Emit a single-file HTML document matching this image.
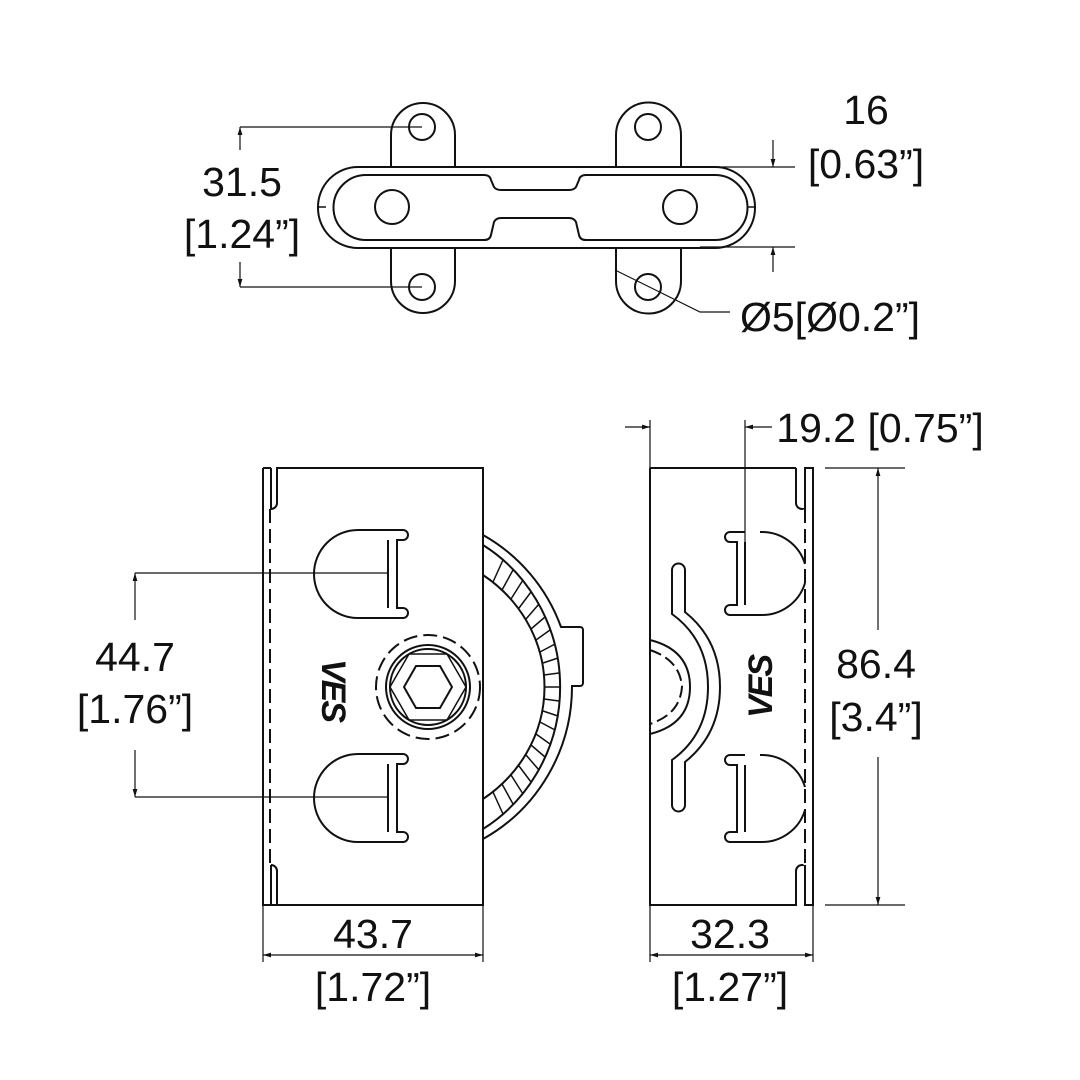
<!DOCTYPE html>
<html><head><style>body{margin:0;background:#fff}svg{display:block}text{font-family:"Liberation Sans",sans-serif;font-size:41px;fill:#111;text-anchor:middle}</style></head>
<body>
<svg width="1080" height="1080" viewBox="0 0 1080 1080" xmlns="http://www.w3.org/2000/svg">
<defs>
<marker id="a" viewBox="0 0 10 10" refX="10" refY="5" markerWidth="10" markerHeight="8" orient="auto-start-reverse" markerUnits="userSpaceOnUse"><path d="M0,2 L10,5 L0,8z" fill="#111"/></marker>
</defs>
<g fill="none" stroke="#111" stroke-width="2">
<!-- TOP VIEW -->
<path d="M391,167 V135 a32,32 0 0 1 64,0 V167"/>
<path d="M616,167 V135 a32,32 0 0 1 65,0 V167"/>
<path d="M391,247 V281 a32,32 0 0 0 64,0 V247"/>
<path d="M616,247 V281 a32,32 0 0 0 65,0 V247"/>
<rect x="318" y="167" width="437" height="81" rx="40"/>
<path d="M366,175 H484 Q490,175 491,180 L494,187 Q496,190 501,190 H569 Q574,190 576,187 L579,180 Q580,175 586,175 H715 a32,32 0 0 1 0,65 H586 Q580,240 579,235 L576,222 Q574,218 569,218 H501 Q496,218 494,222 L491,235 Q490,240 484,240 H366 a32,32 0 0 1 0,-65z"/>
<path d="M318,207 h8 M747,207 h8" stroke-width="1.5"/>
<circle cx="422" cy="127" r="13"/><circle cx="648" cy="127" r="13"/>
<circle cx="422" cy="287" r="13"/><circle cx="648" cy="287" r="13"/>
<circle cx="392" cy="207" r="17"/><circle cx="680" cy="207" r="17"/>
<g stroke-width="1.2">
<line x1="240" y1="127" x2="422" y2="127"/><line x1="240" y1="287" x2="422" y2="287"/>
<line x1="240" y1="127" x2="240" y2="150" marker-start="url(#a)"/><line x1="240" y1="287" x2="240" y2="262" marker-start="url(#a)"/>
<line x1="700" y1="167" x2="795" y2="167"/><line x1="700" y1="247" x2="795" y2="247"/>
<line x1="773" y1="140" x2="773" y2="167" marker-end="url(#a)"/><line x1="773" y1="272" x2="773" y2="247" marker-end="url(#a)"/>
<path d="M615,270 L700,312 H730"/>
</g>
<!-- FRONT VIEW -->
<path d="M263,468 V905 H483 V468 H277 V503 a6,6 0 0 1 -6,6 M271,468 V509 M271,865 V905 M271,865 a6,6 0 0 1 6,6 V905"/>
<line x1="263" y1="468" x2="271" y2="468"/>
<line x1="270" y1="509" x2="270" y2="865" stroke-dasharray="14,6"/>
<path d="M388,530 H358 a44,44 0 0 0 0,88 H403 a5,5 0 0 0 0,-10 H397 V540 H403 a5,5 0 0 0 0,-10z M388,540 V608"/>
<path d="M388,754 H358 a44,44 0 0 0 0,88 H403 a5,5 0 0 0 0,-10 H397 V764 H403 a5,5 0 0 0 0,-10z M388,764 V832"/>
<circle cx="428" cy="687" r="52" stroke-dasharray="14,6"/>
<circle cx="428" cy="687" r="42"/><circle cx="428" cy="687" r="38"/>
<polygon points="452,687 440,708 416,708 404,687 416,666 440,666"/>
<polygon points="466,687 447,720 409,720 390,687 409,654 447,654" stroke-width="1.5"/>
<path d="M483,535 A172,174 0 0 1 561,627 H580 a3,3 0 0 1 3,3 V683 a3,3 0 0 1 -3,3 H572 A172,174 0 0 1 483,839"/>
<path d="M483,545 A160,166 0 0 1 483,829"/>
<path d="M483,575 A145,137 0 0 1 483,799"/>
<g stroke-width="1.5">
<line x1="493" y1="582" x2="503" y2="560"/><line x1="502" y1="590" x2="513" y2="570"/><line x1="511" y1="599" x2="523" y2="580"/><line x1="519" y1="608" x2="531" y2="592"/><line x1="526" y1="619" x2="539" y2="604"/><line x1="531" y1="629" x2="545" y2="617"/><line x1="536" y1="640" x2="550" y2="630"/><line x1="540" y1="652" x2="555" y2="644"/><line x1="543" y1="663" x2="558" y2="658"/><line x1="544" y1="675" x2="559" y2="673"/><line x1="545" y1="687" x2="560" y2="687"/>
<line x1="493" y1="792" x2="503" y2="814"/><line x1="502" y1="784" x2="513" y2="804"/><line x1="511" y1="775" x2="523" y2="794"/><line x1="519" y1="766" x2="531" y2="782"/><line x1="526" y1="755" x2="539" y2="770"/><line x1="531" y1="745" x2="545" y2="757"/><line x1="536" y1="734" x2="550" y2="744"/><line x1="540" y1="722" x2="555" y2="730"/><line x1="543" y1="711" x2="558" y2="716"/><line x1="544" y1="699" x2="559" y2="701"/>
</g>
<g stroke-width="1.2">
<line x1="135" y1="573" x2="388" y2="573"/><line x1="135" y1="797" x2="388" y2="797"/>
<line x1="135" y1="620" x2="135" y2="573" marker-end="url(#a)"/><line x1="135" y1="750" x2="135" y2="797" marker-end="url(#a)"/>
<line x1="263" y1="905" x2="263" y2="962"/><line x1="483" y1="905" x2="483" y2="962"/>
<line x1="263" y1="955" x2="483" y2="955" marker-start="url(#a)" marker-end="url(#a)"/>
</g>
<!-- SIDE VIEW -->
<path d="M650,468 V905 H796 V871 a6,6 0 0 1 6,-6 H805 M796,468 V503 a6,6 0 0 0 6,6 H805 M650,468 H796"/>
<rect x="805" y="468" width="8" height="437"/>
<line x1="805" y1="509" x2="805" y2="865" stroke="#fff" stroke-width="3"/>
<line x1="805" y1="509" x2="805" y2="865" stroke-dasharray="14,6"/>
<path d="M745,532 H730 a5,5 0 0 0 0,10 H737 V605 H730 a5,5 0 0 0 0,10 H760 a45,45 0 0 0 45,-32 M745,542 V605 M760,532 a45,45 0 0 1 45,32"/>
<path d="M745,755 H730 a5,5 0 0 0 0,10 H737 V832 H730 a5,5 0 0 0 0,10 H760 a45,45 0 0 0 45,-32 M745,765 V832 M760,755 a45,45 0 0 1 45,32"/>
<path d="M672,570 a6,6 0 0 1 13,0 V612 Q720,640 720,687 Q720,734 685,762 V805 a6,6 0 0 1 -13,0 V760 Q708,734 708,687 Q708,640 672,614z"/>
<path d="M650,640 Q690,650 690,687 Q690,724 650,734"/>
<path d="M650,650 Q680,660 682,687 Q680,714 650,724" stroke-dasharray="12,5"/>
<g stroke-width="1.2">
<line x1="650" y1="420" x2="650" y2="468"/><line x1="745" y1="420" x2="745" y2="605"/>
<line x1="625" y1="427" x2="650" y2="427" marker-end="url(#a)"/><line x1="772" y1="427" x2="745" y2="427" marker-end="url(#a)"/>
<line x1="825" y1="468" x2="905" y2="468"/><line x1="825" y1="905" x2="905" y2="905"/>
<line x1="878" y1="630" x2="878" y2="468" marker-end="url(#a)"/><line x1="878" y1="757" x2="878" y2="905" marker-end="url(#a)"/>
<line x1="650" y1="905" x2="650" y2="962"/><line x1="813" y1="905" x2="813" y2="962"/>
<line x1="650" y1="955" x2="813" y2="955" marker-start="url(#a)" marker-end="url(#a)"/>
</g>
</g>
<text x="322" y="690" transform="rotate(90 322 690)" style="font-size:34px;font-weight:900;font-style:italic;letter-spacing:-2px">VES</text>
<text x="772" y="687" transform="rotate(-90 772 687)" style="font-size:34px;font-weight:900;font-style:italic;letter-spacing:-2px">VES</text>
<text x="242" y="196">31.5</text><text x="242" y="248">[1.24”]</text>
<text x="866" y="124">16</text><text x="866" y="178">[0.63”]</text>
<text x="830" y="331">Ø5[Ø0.2”]</text>
<text x="135" y="671">44.7</text><text x="135" y="723">[1.76”]</text>
<text x="373" y="948">43.7</text><text x="373" y="1001">[1.72”]</text>
<text x="730" y="948">32.3</text><text x="730" y="1001">[1.27”]</text>
<text x="876" y="678">86.4</text><text x="876" y="731">[3.4”]</text>
<text x="880" y="442">19.2 [0.75”]</text>
</svg>
</body></html>
